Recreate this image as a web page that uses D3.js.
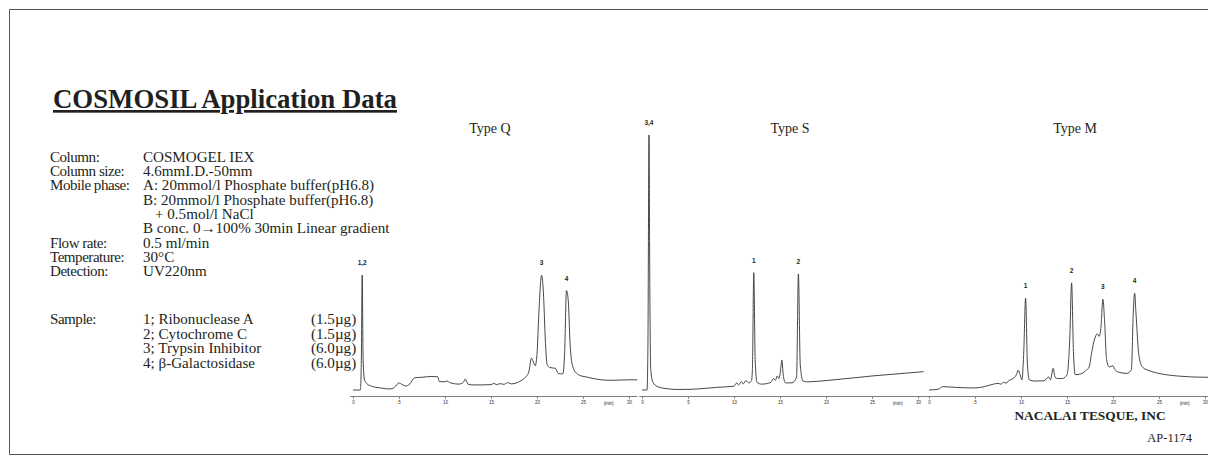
<!DOCTYPE html>
<html><head><meta charset="utf-8">
<script src="https://cdn.jsdelivr.net/npm/d3@7"></script>
<style>
html,body{margin:0;padding:0;background:#fff;}
svg{display:block;}
.serif{font-family:"Liberation Serif","Times New Roman",serif;fill:#231f20;}
.sans{font-family:"Liberation Sans",Arial,sans-serif;fill:#231f20;}
</style></head>
<body>
<svg id="c" width="1208" height="458"></svg>
<script>
// ---------- data ----------
const panelTitles = ["Type Q", "Type S", "Type M"];
const timeTicks = [0, 5, 10, 15, 20, 25, 30];

// Type Q chromatogram: [time(min), signal]
const typeQ = [[0,0],[0.8,0],[0.9,10],[1.0,45],[1.1,12],[1.25,4],[1.5,2.5],[2,1.5],[3,0.8],[4,0.4],[4.5,1],[5,2.8],[5.3,2.2],[5.8,1.6],[6.2,2.5],[6.7,4.8],[7.5,5],[8.5,5.3],[9.2,5.2],[9.4,3.3],[10,3.2],[10.2,3.5],[10.6,2.8],[11.5,2.3],[12,3],[12.2,4.3],[12.5,2.3],[13,2],[14,2],[15,2.1],[15.3,2.6],[15.6,2.1],[16,2.5],[16.4,2.2],[16.8,2.9],[17.2,2.4],[17.8,2.8],[18.2,3.5],[18.6,4.5],[19.1,7],[19.4,12.5],[19.6,11],[19.8,9.5],[20.0,14],[20.2,30],[20.5,45],[20.7,38],[20.9,20],[21.1,10],[21.4,8.8],[22,8.5],[22.3,6.5],[22.8,6.3],[23.0,14],[23.2,39],[23.4,35],[23.6,18],[23.9,9],[24.5,6],[25.5,5],[27,4],[28,3.8],[30,4],[30.9,4]];
// Type S chromatogram
const typeS = [[0,0],[0.55,0],[0.65,20],[0.76,100],[0.85,40],[0.95,8],[1.2,3],[1.6,1.5],[2.5,0.6],[4,0.2],[6,0.4],[8,1.0],[10,1.5],[10.3,2.8],[10.5,2.0],[10.8,3.3],[11.0,2.4],[11.3,3.7],[11.6,2.8],[11.9,3.6],[12.0,8],[12.15,46],[12.3,12],[12.5,3],[13,2.3],[14,3],[14.3,4.5],[14.5,3.8],[14.7,5.5],[14.9,4.5],[15.1,9],[15.2,11.8],[15.35,6],[15.6,2.8],[16.3,2.8],[16.8,5],[17.0,45.5],[17.2,10],[17.5,3.5],[18,3.2],[20,3.7],[25,5.5],[30,7],[30.6,7.2]];
// Type M chromatogram
const typeM = [[0,0],[1,0.3],[1.5,1.3],[3,1.0],[5,0.8],[6,1.3],[7,2.3],[7.5,2.6],[7.8,2.3],[8.1,3],[8.4,2.7],[8.7,3.8],[9,4.2],[9.5,6],[9.7,7.8],[9.9,6],[10.1,4],[10.3,15],[10.5,36],[10.7,10],[10.9,4],[11.5,3.5],[12.5,3.6],[13,5.1],[13.2,4],[13.5,8.5],[13.7,5],[14,4.5],[14.5,4.5],[15.0,6],[15.3,20],[15.5,42],[15.7,15],[15.9,6],[16.5,6.3],[17,7.5],[17.4,9],[17.7,15],[18.0,20],[18.3,22],[18.5,21],[18.7,25],[18.9,35.6],[19.1,26],[19.3,12],[19.6,9],[20,9.5],[20.2,8],[20.6,7],[21.5,6.5],[22.0,8],[22.2,30],[22.35,38],[22.5,30],[22.8,14],[23.2,9],[24,7.5],[25,6.5],[27,5.5],[30,5],[31,5]];
const series = [typeQ, typeS, typeM];

// peak labels per panel: [label, time, signal at top]
const peaksQ = [["1,2",1.0,45],["3",20.5,45],["4",23.2,39]];
const peaksS = [["3,4",0.76,100],["1",12.15,46],["2",17.0,45.5]];
const peaksM = [["1",10.5,36],["2",15.5,42],["3",18.9,35.6],["4",22.35,38]];
const peakLabels = [peaksQ, peaksS, peaksM];

// conditions text
const condLabels = ["Column:", "Column size:", "Mobile phase:", "", "", "", "Flow rate:", "Temperature:", "Detection:"];
const condValues = ["COSMOGEL IEX", "4.6mmI.D.-50mm", "A: 20mmol/l Phosphate buffer(pH6.8)", "B: 20mmol/l Phosphate buffer(pH6.8)", "+ 0.5mol/l NaCl", "B conc. 0\u2192100% 30min Linear gradient", "0.5 ml/min", "30\u00b0C", "UV220nm"];
const sampleNames = ["1; Ribonuclease A", "2; Cytochrome C", "3; Trypsin Inhibitor", "4; \u03b2-Galactosidase"];
const sampleAmounts = ["(1.5\u00b5g)", "(1.5\u00b5g)", "(6.0\u00b5g)", "(6.0\u00b5g)"];

// ---------- drawing ----------
const svg = d3.select("#c");

// frame
svg.append("path").attr("d", "M1208,9.5 H9.5 V454.5 H1208")
  .attr("fill", "none").attr("stroke", "#555").attr("stroke-width", 1);

// title
svg.append("text").attr("class", "serif").attr("x", 53).attr("y", 108)
  .attr("font-size", 26.8).attr("font-weight", "bold").attr("text-decoration", "underline")
  .text("COSMOSIL Application Data");

// conditions
const condY = [157, 171, 185, 199.5, 214, 228, 243, 257, 271];
const condValX = [143, 143, 143, 143, 155, 143, 143, 143, 143];
const fs = 15.1;
condLabels.forEach((t, i) => {
  if (t) svg.append("text").attr("class", "serif").attr("x", 50).attr("y", condY[i] + 5)
    .attr("font-size", fs).attr("letter-spacing", -0.5).text(t);
});
condValues.forEach((t, i) => {
  svg.append("text").attr("class", "serif").attr("x", condValX[i]).attr("y", condY[i] + 5).attr("font-size", fs).text(t);
});
const sampY = [319, 333.5, 348, 362.5];
svg.append("text").attr("class", "serif").attr("x", 50).attr("y", sampY[0] + 5).attr("font-size", fs)
  .attr("letter-spacing", -0.5).text("Sample:");
sampleNames.forEach((t, i) => {
  svg.append("text").attr("class", "serif").attr("x", 143).attr("y", sampY[i] + 5).attr("font-size", fs).text(t);
  svg.append("text").attr("class", "serif").attr("x", 311).attr("y", sampY[i] + 5).attr("font-size", fs).text(sampleAmounts[i]);
});

// footer
svg.append("text").attr("class", "serif").attr("x", 1090).attr("y", 420).attr("font-size", 13.4)
  .attr("font-weight", "bold").attr("text-anchor", "middle").text("NACALAI TESQUE, INC");
svg.append("text").attr("class", "serif").attr("x", 1192).attr("y", 442).attr("font-size", 12.5)
  .attr("text-anchor", "end").text("AP-1174");

// panels
const panelX0 = [353, 642, 929];
const panelW = 276;
const titleX = [490, 790, 1075];
const axisY = 396.5;
const y = d3.scaleLinear().domain([0, 100]).range([390, 135]);

series.forEach((data, p) => {
  const x = d3.scaleLinear().domain([0, 30]).range([panelX0[p], panelX0[p] + panelW]);
  const g = svg.append("g");

  svg.append("text").attr("class", "serif").attr("x", titleX[p]).attr("y", 133)
    .attr("font-size", 14).attr("text-anchor", "middle").text(panelTitles[p]);

  // axis
  const ax = g.append("g").attr("transform", `translate(0,${axisY})`)
    .call(d3.axisBottom(x).tickValues(timeTicks).tickSize(2.5).tickSizeOuter(0).tickPadding(1.5));
  ax.select(".domain").remove();
  ax.selectAll("line").attr("stroke", "#444").attr("stroke-width", 0.6);
  ax.selectAll("text").attr("font-family", "Liberation Sans, Arial, sans-serif").attr("font-size", 4.5).attr("fill", "#333");
  g.append("line").attr("x1", x(-0.3)).attr("x2", x(30.9)).attr("y1", axisY).attr("y2", axisY)
    .attr("stroke", "#444").attr("stroke-width", 0.7);
  g.append("text").attr("class", "sans").attr("x", x(27.8)).attr("y", axisY + 8).attr("font-size", 4.5)
    .attr("text-anchor", "middle").text("(min)");

  // trace
  const line = d3.line().x(d => x(d[0])).y(d => y(d[1])).curve(d3.curveMonotoneX);
  g.append("path").datum(data).attr("d", line).attr("fill", "none")
    .attr("stroke", "#333").attr("stroke-width", 0.9).attr("stroke-linejoin", "round");

  // peak labels
  peakLabels[p].forEach(([lab, t, v]) => {
    g.append("text").attr("class", "sans").attr("x", x(t)).attr("y", y(v) - 10)
      .attr("font-size", 6.5).attr("font-weight", "bold").attr("text-anchor", "middle").text(lab);
  });
});
</script>
</body></html>
